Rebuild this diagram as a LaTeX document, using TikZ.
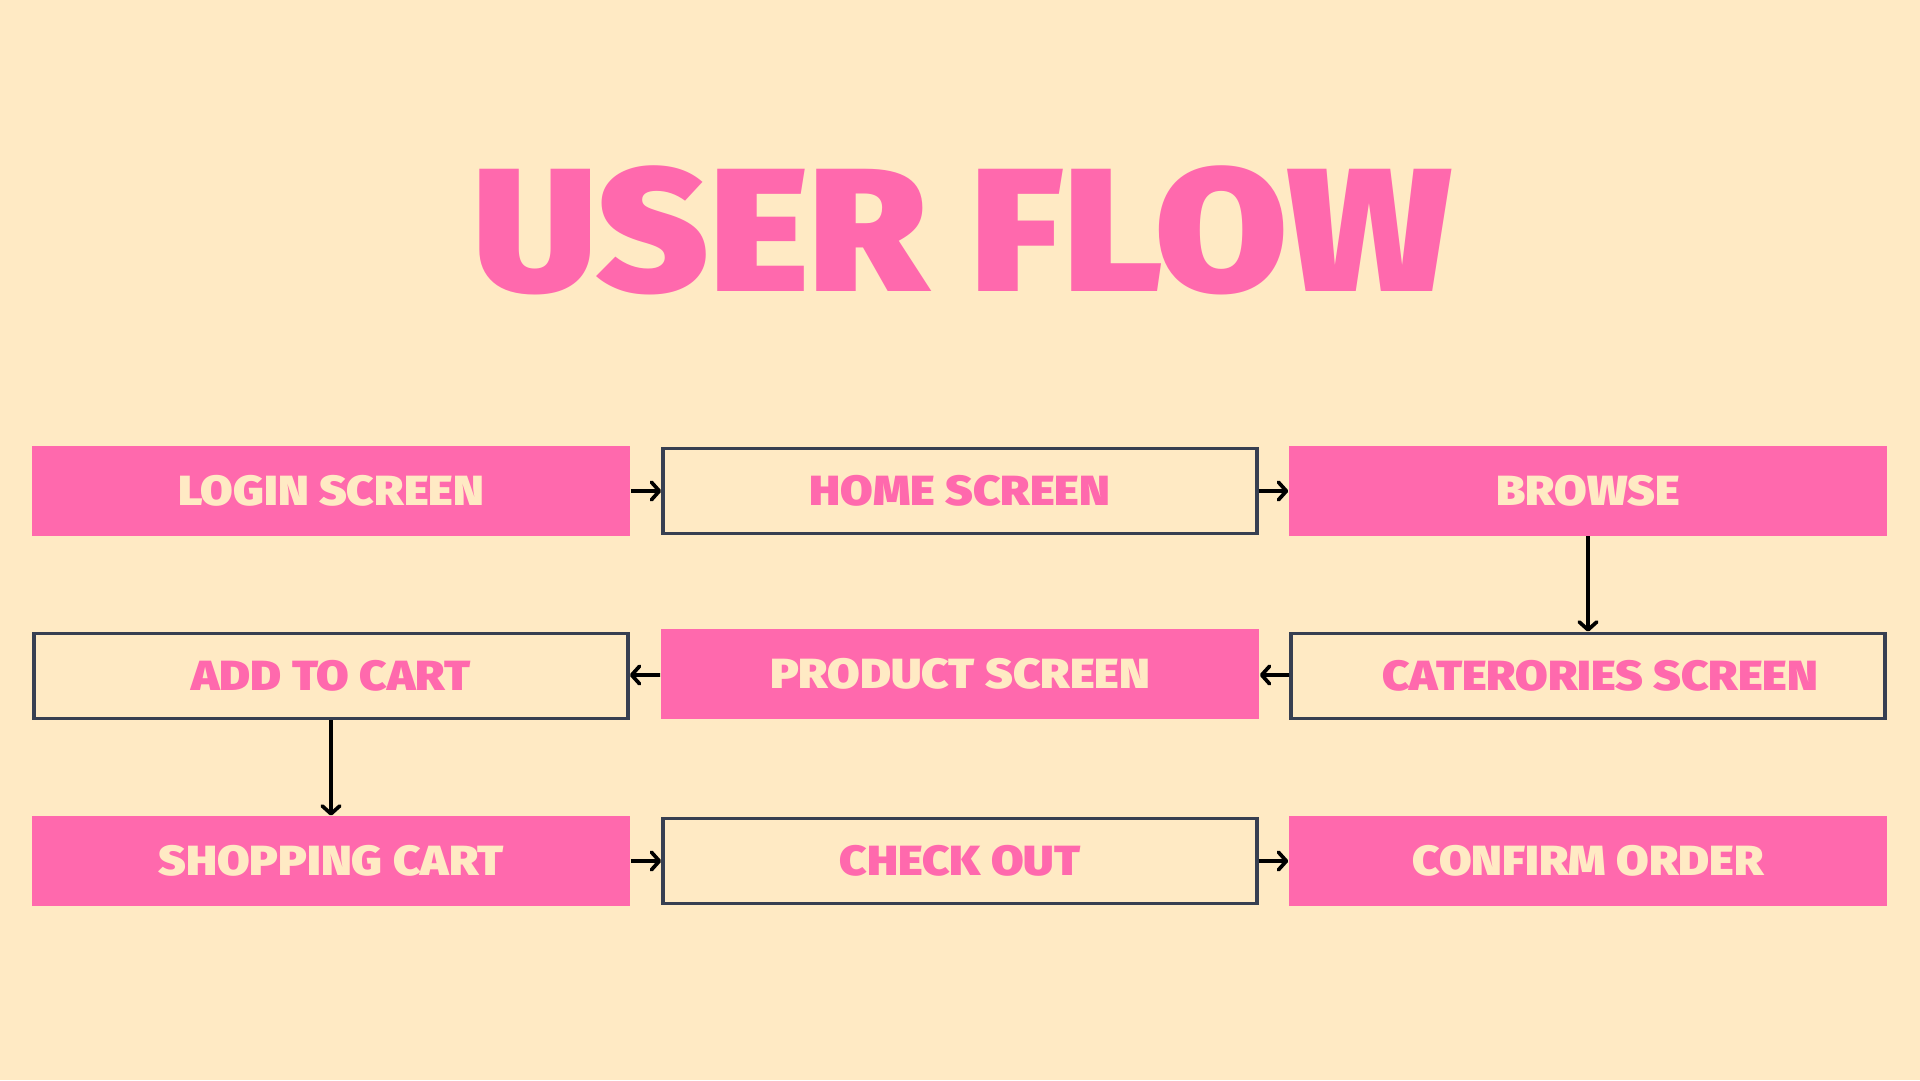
\documentclass[tikz,border=0pt]{standalone}
\usepackage{fontspec}
\setmainfont{Fira Sans}[BoldFont=* Black]
\newfontfamily\flowfont{Fira Sans}[UprightFont=* Black,FakeStretch=1.12]
\newfontfamily\headfont{Fira Sans}[UprightFont=* Black,FakeStretch=1.09]
\usetikzlibrary{arrows.meta}
\definecolor{cream}{HTML}{FFEAC4}
\definecolor{hotpink}{HTML}{FF69AD}
\definecolor{slate}{HTML}{373F51}
\tikzset{
  pinkbox/.style={fill=hotpink,text=cream,minimum width=11.98cm,minimum height=1.80cm,inner sep=0pt,font=\flowfont\fontsize{24}{24}\selectfont},
  linebox/.style={draw=slate,line width=2.1pt,text=hotpink,minimum width=11.88cm,minimum height=1.70cm,inner sep=0pt,font=\flowfont\fontsize{24}{24}\selectfont},
  flowarrow/.style={draw=black,line width=2.1pt,-{Straight Barb[length=4.5pt,width=10pt,round]}}
}
\begin{document}
\begin{tikzpicture}[x=0.02cm,y=-0.02cm]
\fill[cream] (0,0) rectangle (1920,1080);
\useasboundingbox (0,0) rectangle (1920,1080);
\node (title) at (963,230) {\headfont\fontsize{100}{100}\selectfont\textcolor{hotpink}{USER FLOW}};
% first row
\node[pinkbox] (login) at (331,491) {LOGIN SCREEN};
\node[linebox] (home) at (960,491) {HOME SCREEN};
\node[pinkbox] (browse) at (1588,491) {BROWSE};
% second row
\node[linebox] (cart) at (331,676) {ADD TO CART};
\node[pinkbox] (product) at (960,674) {PRODUCT SCREEN};
\node[linebox] (cats) at (1588,676) {\hspace{14pt}CATERORIES SCREEN};
% third row
\node[pinkbox] (shop) at (331,861) {SHOPPING CART};
\node[linebox] (check) at (960,861) {CHECK OUT};
\node[pinkbox] (confirm) at (1588,861) {CONFIRM ORDER};
% connectors
\draw[flowarrow] (login) -- (home);
\draw[flowarrow] (home) -- (browse);
\draw[flowarrow] (browse) -- (cats);
\draw[flowarrow] (cats) -- (product);
\draw[flowarrow] (product) -- (cart);
\draw[flowarrow] (cart) -- (shop);
\draw[flowarrow] (shop) -- (check);
\draw[flowarrow] (check) -- (confirm);
\end{tikzpicture}
\end{document}
